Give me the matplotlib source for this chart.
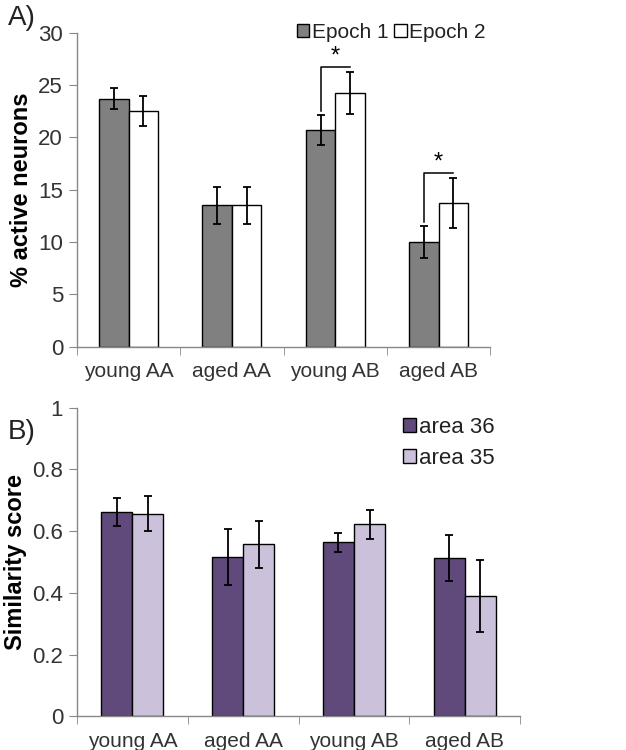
import numpy as np
import matplotlib
matplotlib.use('Agg')
import matplotlib.pyplot as plt
from matplotlib.patches import Patch

plt.rcParams['font.family'] = ['Liberation Sans Narrow', 'Liberation Sans', 'DejaVu Sans']

# 数据
groups = ['young AA', 'aged AA', 'young AB', 'aged AB']

epoch1 = [23.7, 13.5, 20.7, 10.0]
epoch1_err = [1.0, 1.8, 1.45, 1.5]
epoch2 = [22.5, 13.5, 24.2, 13.7]
epoch2_err = [1.45, 1.8, 2.0, 2.4]
sig_groups = [2, 3]  # 有显著差异的组

area36 = [0.662, 0.516, 0.564, 0.513]
area36_err = [0.044, 0.092, 0.030, 0.076]
area35 = [0.657, 0.558, 0.623, 0.390]
area35_err = [0.058, 0.076, 0.047, 0.117]

tick_col = '#333333'
spine_col = '#888888'

fig = plt.figure(figsize=(6.26, 7.5), dpi=100)
axA = fig.add_axes([0.123, 0.5377, 0.660, 0.4187])
axB = fig.add_axes([0.123, 0.0449, 0.708, 0.4115])


def style_axis(ax, ylim, yticks, ylabels, ylabel):
    ax.set_xlim(-0.5, 3.5)
    ax.set_ylim(*ylim)
    ax.set_yticks(yticks)
    ax.set_yticklabels(ylabels)
    ax.set_xticks(range(4))
    ax.set_xticklabels(groups)
    ax.set_xticks(np.arange(-0.5, 4, 1), minor=True)
    ax.tick_params(axis='x', which='major', length=0, pad=11, labelsize=15, labelcolor=tick_col)
    ax.tick_params(axis='x', which='minor', length=6, color=spine_col, direction='out')
    ax.tick_params(axis='y', length=6, color=spine_col, labelsize=16, labelcolor=tick_col, pad=4)
    for s in ['top', 'right']:
        ax.spines[s].set_visible(False)
    for s in ['left', 'bottom']:
        ax.spines[s].set_color(spine_col)
        ax.spines[s].set_linewidth(1.0)
    ax.set_ylabel(ylabel, fontsize=17, fontweight='bold', family=['Liberation Sans', 'DejaVu Sans'],
                  labelpad=4)


x = np.arange(len(groups))
ek = dict(ecolor='black', elinewidth=1.3, capsize=3, capthick=1.3)

# A) 活跃神经元比例
w = 0.285
axA.bar(x - w / 2, epoch1, w, color='#808080', edgecolor='black', linewidth=1, label='Epoch 1', zorder=2)
axA.bar(x + w / 2, epoch2, w, color='white', edgecolor='black', linewidth=1, label='Epoch 2', zorder=2)
axA.errorbar(x - w / 2, epoch1, yerr=epoch1_err, fmt='none', zorder=3, **ek)
axA.errorbar(x + w / 2, epoch2, yerr=epoch2_err, fmt='none', zorder=3, **ek)
style_axis(axA, (0, 30), range(0, 31, 5), [str(v) for v in range(0, 31, 5)], '% active neurons')

for i in sig_groups:
    bottom = epoch1[i] + epoch1_err[i] + 0.4
    top = epoch2[i] + epoch2_err[i] + 0.5
    axA.plot([i - w / 2, i - w / 2, i + w / 2], [bottom, top, top], color='black', lw=1.1, zorder=4)
    axA.text(i, top + 1.0, '*', ha='center', va='center', fontsize=17, family='Liberation Sans')

axA.legend(handles=[Patch(facecolor='#808080', edgecolor='black', label='Epoch 1'),
                    Patch(facecolor='white', edgecolor='black', label='Epoch 2')],
           loc='center right', bbox_to_anchor=(1.01, 1.0), ncol=2, frameon=False,
           fontsize=15, handlelength=0.6, handleheight=0.6, handletextpad=0.12,
           columnspacing=0.3, borderaxespad=0, labelcolor='#222222')
fig.text(0.013, 0.976, 'A)', fontsize=20, va='center', ha='left', color='#222222')

# B) 相似度
w = 0.28
axB.bar(x - w / 2, area36, w, color='#604a7b', edgecolor='black', linewidth=1, zorder=2)
axB.bar(x + w / 2, area35, w, color='#ccc1da', edgecolor='black', linewidth=1, zorder=2)
axB.errorbar(x - w / 2, area36, yerr=area36_err, fmt='none', zorder=3, **ek)
axB.errorbar(x + w / 2, area35, yerr=area35_err, fmt='none', zorder=3, **ek)
style_axis(axB, (0, 1), np.arange(0, 1.01, 0.2), ['0', '0.2', '0.4', '0.6', '0.8', '1'], 'Similarity score')

axB.legend(handles=[Patch(facecolor='#604a7b', edgecolor='black', label='area 36'),
                    Patch(facecolor='#ccc1da', edgecolor='black', label='area 35')],
           loc='upper left', bbox_to_anchor=(0.715, 1.0), frameon=False,
           fontsize=16, handlelength=0.6, handleheight=0.6, handletextpad=0.12,
           labelspacing=0.45, borderaxespad=0, labelcolor='#222222')
fig.text(0.013, 0.424, 'B)', fontsize=20, va='center', ha='left', color='#222222')

fig.savefig('out.png', dpi=100, facecolor='white')
